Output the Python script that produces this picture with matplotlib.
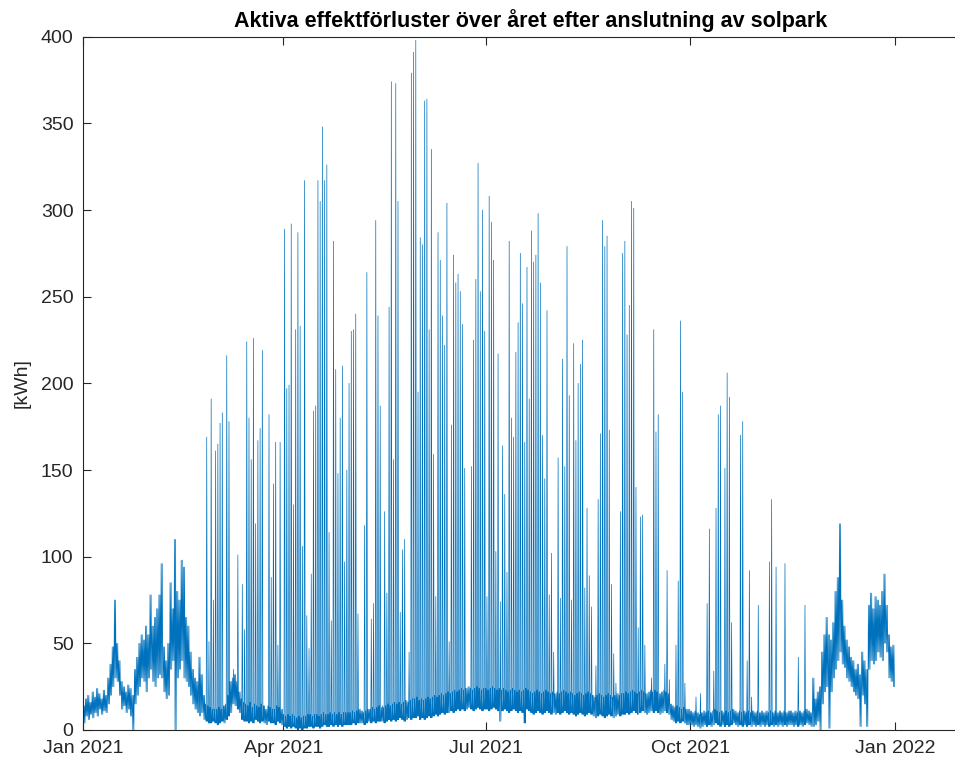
import numpy as np
import matplotlib
matplotlib.use("Agg")
import matplotlib.pyplot as plt

plt.rcParams["font.family"] = ["Liberation Sans", "DejaVu Sans"]

# Daily lower / upper envelope of the hourly losses [kWh], one row per month
low_jan = [4, 8, 6, 9, 7, 10, 8, 12, 9, 11, 10, 15, 20, 25, 30, 28, 20, 12, 14, 10, 12, 8, 0, 15, 20, 25, 30, 28, 22, 30, 35]
high_jan = [14, 18, 20, 16, 22, 19, 24, 21, 18, 23, 20, 30, 38, 48, 75, 50, 40, 28, 25, 22, 26, 24, 20, 35, 42, 50, 55, 52, 60, 55, 78]
low_feb = [28, 25, 30, 32, 30, 22, 18, 20, 35, 40, 0, 30, 35, 40, 30, 28, 25, 20, 15, 12, 10, 8, 10, 6, 5, 4, 4, 5]
high_feb = [60, 65, 70, 78, 96, 48, 40, 50, 85, 70, 110, 80, 75, 98, 94, 65, 60, 45, 35, 30, 28, 42, 32, 20, 15, 14, 13, 12]
low_mar = [4, 3, 4, 5, 4, 6, 8, 10, 15, 14, 12, 10, 6, 5, 5, 4, 5, 4, 6, 5, 4, 5, 4, 3, 5, 4, 4, 3, 5, 4, 3]
high_mar = [12, 12, 13, 12, 14, 15, 20, 28, 30, 32, 28, 22, 18, 16, 15, 14, 16, 13, 15, 14, 13, 15, 14, 12, 14, 13, 12, 12, 14, 13, 12]
low_apr = [2, 1, 2, 1, 2, 1, 0, 1, 0, 1, 1, 2, 2, 1, 2, 2, 1, 2, 3, 2, 2, 3, 2, 3, 2, 3, 2, 3, 3, 3]
high_apr = [9, 8, 9, 8, 9, 8, 7, 8, 7, 8, 8, 9, 9, 8, 9, 9, 8, 9, 10, 9, 9, 10, 9, 10, 9, 10, 9, 10, 10, 10]
low_may = [3, 4, 3, 4, 4, 4, 3, 4, 5, 4, 5, 4, 5, 5, 5, 4, 5, 6, 5, 6, 5, 6, 7, 6, 5, 6, 7, 6, 7, 7, 8]
high_may = [10, 11, 10, 11, 12, 11, 10, 11, 12, 12, 13, 12, 13, 14, 13, 13, 14, 15, 14, 15, 16, 15, 16, 15, 16, 17, 16, 17, 18, 18, 19]
low_jun = [6, 7, 6, 7, 8, 7, 8, 9, 8, 9, 10, 9, 10, 10, 11, 10, 11, 12, 11, 12, 11, 12, 13, 12, 11, 12, 13, 12, 11, 12]
high_jun = [17, 18, 17, 18, 19, 18, 19, 20, 19, 20, 21, 20, 21, 22, 21, 22, 23, 22, 23, 24, 23, 24, 25, 24, 23, 24, 25, 24, 23, 24]
low_jul = [12, 11, 12, 13, 12, 11, 5, 11, 12, 11, 10, 11, 12, 11, 10, 11, 10, 4, 12, 11, 10, 9, 10, 11, 10, 9, 10, 11, 10, 9, 10]
high_jul = [24, 23, 24, 25, 24, 23, 24, 23, 24, 23, 22, 23, 24, 23, 22, 23, 22, 23, 24, 23, 22, 21, 22, 23, 22, 21, 22, 23, 22, 21, 22]
low_aug = [9, 10, 9, 10, 11, 10, 9, 10, 9, 8, 9, 10, 9, 8, 9, 10, 9, 8, 7, 8, 9, 8, 7, 8, 9, 8, 7, 8, 9, 8, 9]
high_aug = [21, 22, 21, 22, 23, 22, 21, 22, 21, 20, 21, 22, 21, 20, 21, 22, 21, 20, 19, 20, 21, 20, 19, 20, 21, 20, 19, 20, 21, 20, 21]
low_sep = [9, 10, 9, 10, 11, 10, 9, 10, 11, 10, 9, 10, 11, 10, 11, 10, 9, 10, 11, 10, 9, 6, 5, 4, 5, 4, 5, 4, 3, 3]
high_sep = [21, 22, 21, 22, 23, 22, 21, 22, 23, 22, 21, 22, 23, 22, 23, 22, 21, 22, 23, 22, 21, 15, 14, 13, 14, 13, 12, 13, 12, 12]
low_oct = [3, 2, 3, 2, 1, 2, 3, 2, 3, 2, 3, 4, 3, 2, 3, 2, 3, 2, 3, 4, 3, 2, 3, 2, 3, 2, 3, 2, 3, 2, 3]
high_oct = [11, 10, 11, 10, 9, 10, 11, 10, 11, 10, 11, 12, 11, 10, 11, 10, 11, 10, 11, 12, 11, 10, 11, 10, 11, 10, 11, 10, 11, 10, 11]
low_nov = [2, 3, 2, 3, 2, 3, 2, 3, 2, 3, 2, 3, 2, 3, 3, 2, 3, 2, 3, 2, 3, 4, 3, 2, 2, 3, 5, 0, 15, 22]
high_nov = [10, 11, 10, 11, 10, 11, 10, 11, 10, 11, 10, 11, 10, 11, 11, 10, 11, 10, 11, 10, 11, 12, 11, 10, 30, 18, 22, 25, 45, 55]
low_dec = [25, 1, 22, 30, 35, 40, 45, 38, 36, 30, 28, 25, 22, 20, 18, 2, 20, 15, 2, 35, 40, 38, 40, 45, 42, 40, 50, 45, 30, 28, 25]
high_dec = [65, 55, 52, 62, 80, 88, 119, 75, 60, 52, 48, 42, 40, 35, 38, 32, 45, 40, 35, 72, 79, 70, 77, 75, 72, 80, 90, 72, 55, 48, 49]

# Midday peaks on sunny days: day of year (0 = 1 Jan) and peak loss [kWh]
spike_day = [55, 56, 57, 58, 59, 60, 61, 62, 64, 65, 67, 69, 71, 72, 73, 74, 75, 76, 77, 78, 79, 80,
             83, 84, 85, 86, 87, 88, 90, 91, 92, 93, 94, 95, 96, 97, 98, 99, 100, 101, 102, 103, 104,
             105, 106, 107, 108, 109, 110, 111, 112, 113, 114, 115, 116, 117, 118, 119, 120, 121, 122,
             123, 126, 127, 129, 130, 131, 132, 133, 134, 135, 136, 137, 138, 139, 140, 141, 142, 143,
             144, 146, 147, 148, 149, 150, 151, 152, 153, 154, 155, 156, 157, 158, 159, 160, 161, 162,
             163, 164, 165, 166, 167, 168, 169, 170, 171, 174, 175, 176, 177, 178, 179, 180, 181, 182,
             183, 184, 185, 186, 187, 188, 189, 190, 191, 192, 193, 194, 195, 196, 197, 198, 199, 200,
             201, 202, 203, 204, 205, 206, 207, 208, 209, 210, 211, 213, 214, 215, 216, 217, 218, 219,
             220, 221, 222, 223, 224, 225, 226, 227, 228, 230, 231, 232, 233, 234, 235, 236, 237, 238,
             239, 241, 242, 243, 244, 245, 246, 247, 248, 249, 250, 251, 252, 255, 256, 257, 258, 261,
             262, 263, 266, 267, 268, 269, 270, 275, 277, 280, 281, 283, 284, 285, 286, 288, 289, 290,
             291, 295, 296, 298, 299, 300, 303, 308, 309, 311, 315, 321, 324]
spike_peak = [169, 51, 191, 75, 161, 165, 177, 183, 216, 178, 35, 101, 84, 58, 224, 180, 156, 226, 119, 167, 174, 219,
              182, 88, 142, 166, 49, 166, 289, 197, 199, 292, 130, 231, 287, 233, 106, 317, 66, 47, 90, 184, 187,
              317, 305, 348, 317, 326, 114, 63, 282, 208, 148, 180, 210, 97, 150, 200, 230, 231, 240,
              67, 118, 264, 64, 73, 294, 239, 187, 14, 126, 79, 244, 374, 156, 373, 305, 68, 104,
              110, 45, 379, 391, 398, 195, 284, 280, 363, 364, 231, 335, 159, 77, 287, 271, 239, 222,
              304, 51, 176, 274, 258, 263, 253, 234, 151, 152, 225, 260, 327, 253, 300, 230, 77, 308,
              293, 271, 103, 217, 74, 164, 136, 91, 282, 180, 169, 218, 235, 275, 246, 166, 267, 191,
              288, 270, 274, 298, 258, 170, 145, 242, 78, 102, 45, 157, 76, 214, 152, 279, 193, 75,
              223, 167, 200, 211, 225, 82, 128, 89, 71, 37, 133, 171, 294, 279, 285, 173, 84, 44,
              27, 126, 275, 282, 228, 245, 305, 301, 140, 59, 123, 124, 49, 30, 231, 172, 182, 38,
              92, 29, 49, 86, 236, 195, 27, 19, 21, 73, 116, 34, 128, 182, 187, 151, 206, 192,
              62, 170, 178, 40, 92, 19, 72, 97, 133, 94, 96, 42, 72]

x_ticks = ["2021-01-01", "2021-04-01", "2021-07-01", "2021-10-01", "2022-01-01"]
x_tick_labels = ["Jan 2021", "Apr 2021", "Jul 2021", "Oct 2021", "Jan 2022"]
y_ticks = list(range(0, 401, 50))

day_low = np.array(low_jan + low_feb + low_mar + low_apr + low_may + low_jun +
                   low_jul + low_aug + low_sep + low_oct + low_nov + low_dec, dtype=float)
day_high = np.array(high_jan + high_feb + high_mar + high_apr + high_may + high_jun +
                    high_jul + high_aug + high_sep + high_oct + high_nov + high_dec, dtype=float)
day_peak = day_high.copy()
for d, p in zip(spike_day, spike_peak):
    day_peak[d] = max(day_peak[d], p)

# Each day: evening high at 00 h, night low at 06 h, noon peak, evening low at 18 h
hours = [0, 6, 12, 18]
levels = [day_high, day_low, day_peak, day_low]
start = np.datetime64("2021-01-01T00:00")
n = len(day_low)
day0 = start + np.arange(n) * np.timedelta64(24, "h")
t = np.empty(len(hours) * n, dtype="datetime64[m]")
v = np.empty(len(hours) * n)
for k, (h, lev) in enumerate(zip(hours, levels)):
    t[k::len(hours)] = day0 + np.timedelta64(h, "h")
    v[k::len(hours)] = lev

W, H = 955, 769
fig = plt.figure(figsize=(W / 100, H / 100), dpi=100)
left, right, bottom, top = 83.3, 964.0, 730.0, 36.7
ax = fig.add_axes([left / W, 1 - bottom / H, (right - left) / W, (bottom - top) / H])

ax.plot(t, v, color="#0072BD", linewidth=0.5)

ax.set_xlim(np.datetime64("2021-01-01"), np.datetime64("2022-02-01"))
ax.set_ylim(0, 400)
ax.set_xticks([np.datetime64(s) for s in x_ticks])
ax.set_xticklabels(x_tick_labels)
ax.set_yticks(y_ticks)

dark = "#262626"
for s in ax.spines.values():
    s.set_color(dark)
    s.set_linewidth(0.8)
ax.tick_params(direction="in", top=True, right=True, length=5.8, width=0.8,
               color=dark, labelcolor=dark, labelsize=14)
ax.tick_params(axis="x", pad=7.5)
ax.tick_params(axis="y", pad=7)

ax.set_title("Aktiva effektförluster över året efter anslutning av solpark",
             fontsize=15.5, fontweight="bold", color="black", pad=7, x=0.508)
ax.set_ylabel("[kWh]", fontsize=14, color=dark)
ax.yaxis.set_label_coords(-0.06, 0.5)

fig.savefig("out.png", dpi=100)
